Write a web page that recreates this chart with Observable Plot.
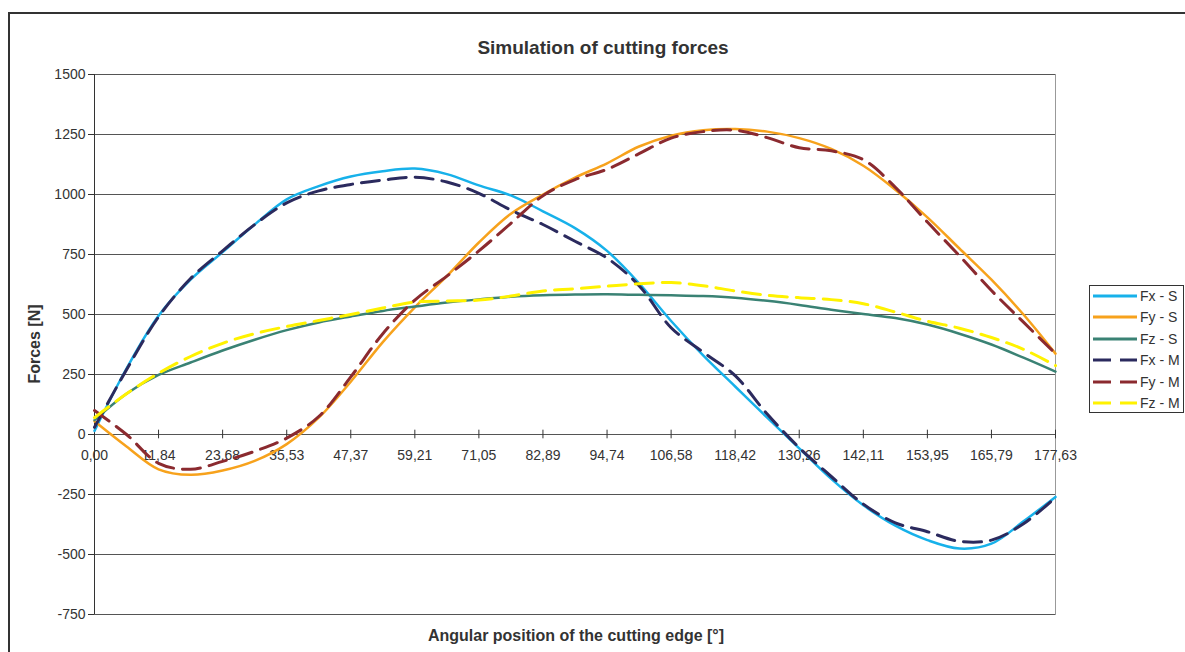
<!DOCTYPE html>
<html>
<head>
<meta charset="utf-8">
<script src="https://cdn.jsdelivr.net/npm/d3@7"></script>
<script src="https://cdn.jsdelivr.net/npm/@observablehq/plot@0.6"></script>
<style>
  body { margin: 0; background: #fff; font-family: "Liberation Sans", Arial, sans-serif; }
  #wrap { position: relative; width: 1185px; height: 652px; overflow: hidden; background: #fff; }
  #frame { position: absolute; left: 8px; top: 12px; width: 1300px; height: 800px; border-left: 2px solid #333; border-top: 2px solid #333; }
  #chart { position: absolute; left: 0; top: 0; }
  .lbl { position: absolute; color: #333; font-weight: bold; white-space: nowrap; transform: translate(-50%, -50%); }
  #legend { position: absolute; left: 1089px; top: 285px; width: 93px; height: 126px; border: 1px solid #333; background: #fff; }
  .item { position: absolute; left: 0; height: 20px; display: flex; align-items: center; font-size: 14px; color: #333; }
  .item svg { margin-left: 3px; margin-right: 3px; }
</style>
</head>
<body>
<div id="wrap">
  <div id="frame"></div>
  <div id="chart"></div>
  <div class="lbl" id="title" style="left:603px; top:48px; font-size:19px;">Simulation of cutting forces</div>
  <div class="lbl" id="xtitle" style="left:576px; top:636px; font-size:16px;">Angular position of the cutting edge [°]</div>
  <div class="lbl" id="ytitle" style="left:35px; top:344px; font-size:16px; transform: translate(-50%, -50%) rotate(-90deg);">Forces [N]</div>
  <div id="legend"></div>
</div>
<script>
// Angular positions (deg)
const angle = [0, 5.92, 11.84, 17.76, 23.68, 29.61, 35.53, 41.45, 47.37, 53.29, 59.21, 65.13, 71.05, 76.97, 82.89, 88.82,
  94.74, 100.66, 106.58, 112.50, 118.42, 124.34, 130.26, 136.18, 142.11, 148.03, 153.95, 159.87, 165.79, 171.71, 177.63];

// Simulated forces (N)
const fxS = [15, 275, 495, 645, 760, 875, 980, 1035, 1075, 1097, 1108, 1085, 1038, 996, 930, 860,
  765, 630, 473, 330, 200, 70, -58, -185, -295, -380, -440, -475, -455, -362, -260];
const fyS = [55, -50, -145, -168, -150, -110, -40, 70, 220, 385, 530, 660, 800, 920, 1000, 1070,
  1130, 1200, 1245, 1268, 1273, 1262, 1235, 1190, 1120, 1020, 905, 775, 645, 500, 337];
const fzS = [60, 170, 248, 300, 350, 395, 435, 467, 492, 515, 533, 550, 563, 574, 580, 583,
  584, 582, 580, 577, 570, 557, 540, 520, 502, 485, 458, 420, 375, 320, 262];
// Measured forces (N)
const fxM = [30, 270, 490, 650, 765, 875, 965, 1015, 1042, 1060, 1072, 1052, 1005, 935, 875, 805,
  735, 620, 445, 343, 245, 85, -55, -175, -290, -368, -405, -445, -440, -372, -262];
const fyM = [100, 0, -120, -145, -112, -70, -15, 75, 240, 420, 560, 660, 765, 880, 995, 1062,
  1105, 1170, 1235, 1262, 1268, 1237, 1195, 1182, 1145, 1030, 885, 745, 600, 468, 337];
const fzM = [70, 170, 255, 325, 380, 420, 450, 475, 500, 527, 552, 556, 560, 577, 598, 607,
  618, 628, 633, 620, 598, 580, 570, 562, 545, 510, 472, 443, 404, 355, 287];

const seriesNames = ["Fx - S", "Fy - S", "Fz - S", "Fx - M", "Fy - M", "Fz - M"];
const seriesValues = [fxS, fyS, fzS, fxM, fyM, fzM];
const seriesColors = ["#17b1ea", "#f7a21c", "#3a8274", "#2b2a5e", "#8b2a2f", "#fff200"];
const seriesDashed = [false, false, false, true, true, true];

const xTicks = [0, 11.84, 23.68, 35.53, 47.37, 59.21, 71.05, 82.89, 94.74, 106.58, 118.42, 130.26, 142.11, 153.95, 165.79, 177.63];
const yTicks = [-750, -500, -250, 0, 250, 500, 750, 1000, 1250, 1500];

const rows = seriesNames.flatMap((name, i) => angle.map((a, j) => ({angle: a, value: seriesValues[i][j], series: name})));

const lineMarks = seriesNames.map((name, i) =>
  Plot.line(rows.filter(d => d.series === name), {
    x: "angle", y: "value", stroke: seriesColors[i],
    strokeWidth: seriesDashed[i] ? 3 : 2.5,
    strokeDasharray: seriesDashed[i] ? "18,9" : null,
    curve: "catmull-rom"
  })
);

const chart = Plot.plot({
  width: 1185,
  height: 652,
  marginLeft: 94,
  marginRight: 130,
  marginTop: 74,
  marginBottom: 38,
  style: {fontFamily: "'Liberation Sans', Arial, sans-serif", background: "transparent", color: "#333"},
  x: {domain: [0, 177.63], axis: null},
  y: {domain: [-750, 1500]},
  marks: [
    Plot.frame({stroke: "#999"}),
    Plot.ruleY(yTicks, {stroke: "#555", strokeWidth: 1}),
    Plot.axisY(yTicks, {tickSize: 6, tickPadding: 3, tickFormat: d => String(d), fontSize: 14, label: null, stroke: "#333"}),
    Plot.ruleX([0], {stroke: "#333"}),
    Plot.ruleX(xTicks, {x: d => d, y1: -18, y2: 18, stroke: "#333"}),
    Plot.text(xTicks, {x: d => d, y: 0, dy: 21, text: d => d.toFixed(2).replace(".", ","), fontSize: 14, fill: "#333"}),
    ...lineMarks
  ]
});
document.getElementById("chart").appendChild(chart);

// Legend
const legend = document.getElementById("legend");
seriesNames.forEach((name, i) => {
  const item = document.createElement("div");
  item.className = "item";
  item.style.top = (i * 21.4) + "px";
  const dash = seriesDashed[i] ? ' stroke-dasharray="18,9"' : '';
  item.innerHTML = `<svg width="44" height="20"><line x1="0" x2="44" y1="10" y2="10" stroke="${seriesColors[i]}" stroke-width="3"${dash}/></svg><span>${name}</span>`;
  legend.appendChild(item);
});
</script>
</body>
</html>
